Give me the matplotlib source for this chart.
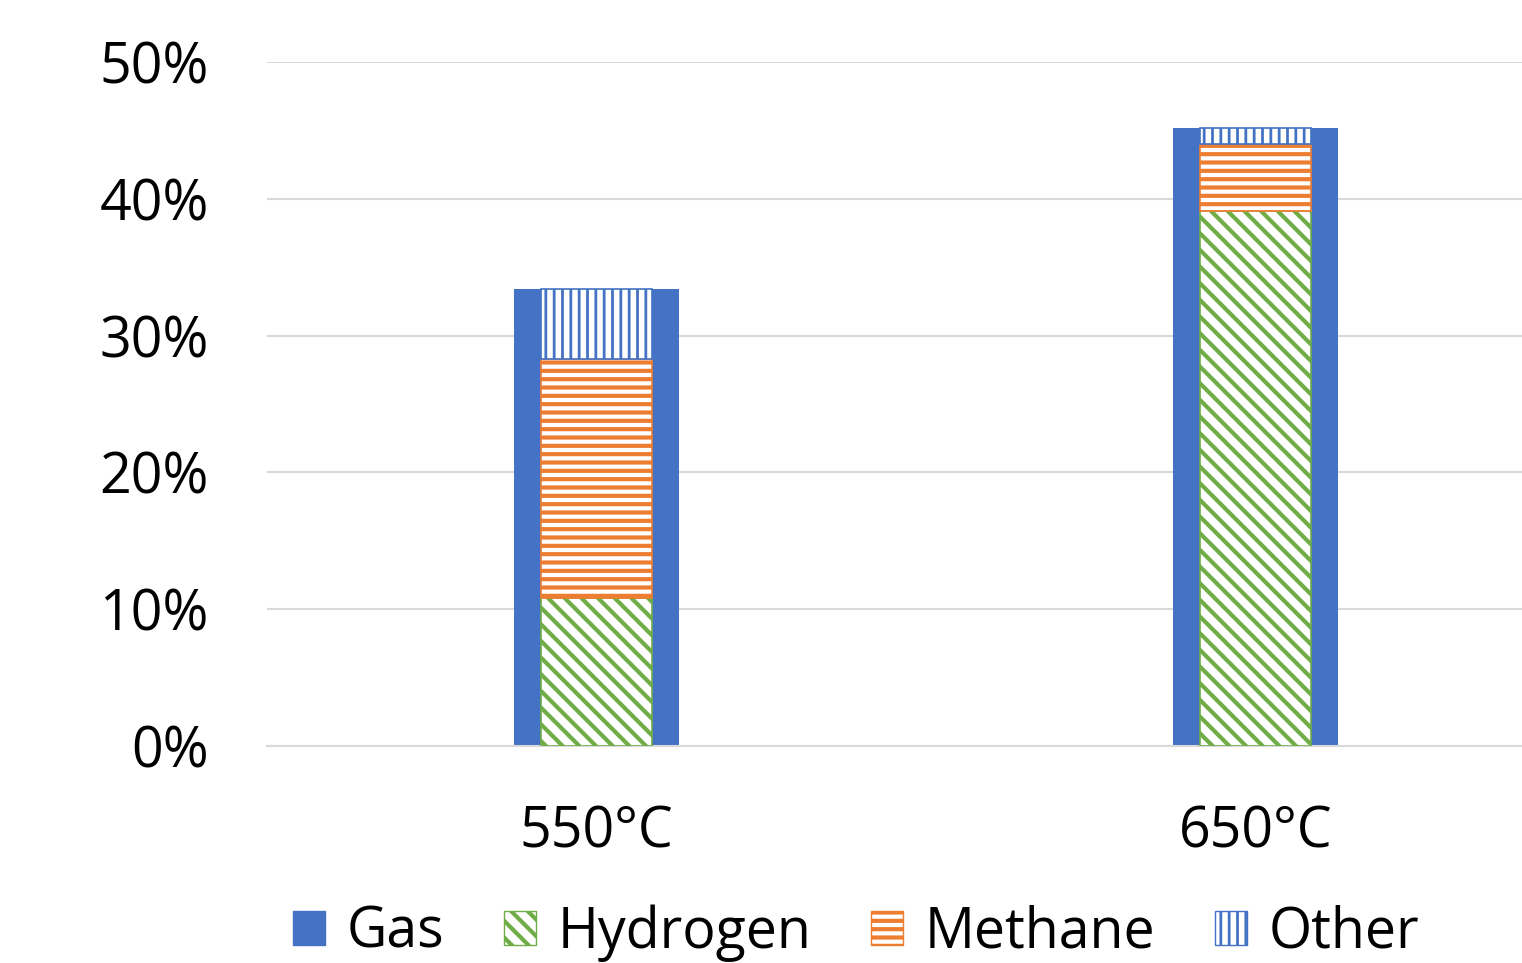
import matplotlib
matplotlib.use("Agg")
import matplotlib.pyplot as plt
from matplotlib.patches import Patch
from matplotlib.ticker import PercentFormatter
import numpy as np

categories = ["550°C", "650°C"]
gas = [0.334, 0.452]
hydrogen = [0.108, 0.391]
methane = [0.175, 0.049]
other = [0.051, 0.012]
yticks = [0, 0.1, 0.2, 0.3, 0.4, 0.5]

BLUE = "#4472C4"
GREEN = "#70AD47"
ORANGE = "#ED7D31"
FS = 40

plt.rcParams['font.family'] = ['Open Sans', 'DejaVu Sans']
plt.rcParams['hatch.linewidth'] = 3.0

fig = plt.figure(figsize=(15.22, 9.63), dpi=100)
ax = fig.add_axes([267/1522, 1-746/963, 1-267/1522, (746-62)/963])

x = np.arange(len(categories))
ax.bar(x, gas, width=0.25, color=BLUE, zorder=2)
h = np.array(hydrogen)
m = np.array(methane)
o = np.array(other)
ax.bar(x, h, width=0.168, color="white", edgecolor=GREEN, hatch="\\\\", linewidth=1.2, zorder=3)
ax.bar(x, m, width=0.168, bottom=h, color="white", edgecolor=ORANGE, hatch="--", linewidth=1.2, zorder=3)
bo = ax.bar(x, o, width=0.168, bottom=h + m, color="white", edgecolor=BLUE, hatch="||", linewidth=1.2, zorder=3)
for p in bo:
    try:
        p.set_hatch_linewidth(2.0)
    except Exception:
        pass

ax.set_xlim(-0.5, 1.404)
ax.set_ylim(0, 0.5)
ax.set_yticks(yticks)
ax.yaxis.set_major_formatter(PercentFormatter(1.0, decimals=0))
ax.set_xticks(x)
ax.set_xticklabels(categories)
ax.grid(axis='y', color="#D9D9D9", linewidth=1.5, zorder=0)
ax.set_axisbelow(True)
for s in ['top', 'right', 'left']:
    ax.spines[s].set_visible(False)
ax.spines['bottom'].set_color("#D9D9D9")
ax.spines['bottom'].set_linewidth(1.5)
ax.tick_params(axis='both', length=0, labelsize=FS)
ax.tick_params(axis='y', pad=42)
ax.tick_params(axis='x', pad=42)

handles = [
    Patch(facecolor=BLUE, edgecolor=BLUE, label="Gas"),
    Patch(facecolor="white", edgecolor=GREEN, hatch="\\\\", label="Hydrogen"),
    Patch(facecolor="white", edgecolor=ORANGE, hatch="--", label="Methane"),
    Patch(facecolor="white", edgecolor=BLUE, hatch="||", label="Other"),
]
leg = fig.legend(handles=handles, loc='center', bbox_to_anchor=(856/1522, 1-933/963), ncol=4,
                 frameon=False, fontsize=FS, handlelength=0.58, handleheight=0.58,
                 handletextpad=0.38, columnspacing=1.08)
for p in leg.get_patches()[3:]:
    try:
        p.set_hatch_linewidth(2.0)
    except Exception:
        pass

fig.savefig("out.png", dpi=100)
